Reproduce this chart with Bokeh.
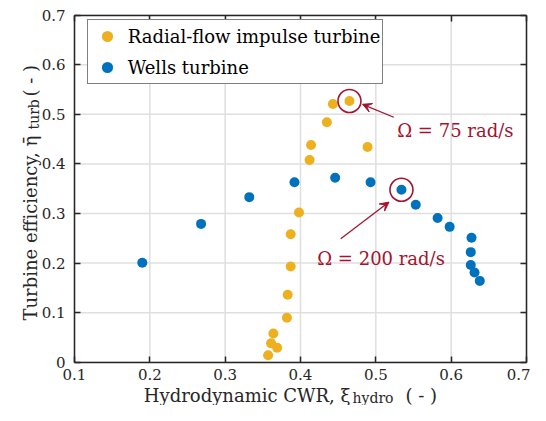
import numpy as np
from bokeh.plotting import figure
from bokeh.models import (Label, Arrow, VeeHead, Legend, LegendItem, LinearAxis,
                          FixedTicker, Range1d)
from bokeh.embed import file_html
from bokeh.resources import INLINE

# ---------------- data ----------------
radial_x = [0.443, 0.465, 0.435, 0.414, 0.412, 0.489, 0.398, 0.387, 0.387,
            0.383, 0.382, 0.364, 0.361, 0.369, 0.357]
radial_y = [0.521, 0.527, 0.484, 0.438, 0.408, 0.434, 0.302, 0.258, 0.193,
            0.136, 0.0895, 0.058, 0.038, 0.029, 0.014]
wells_x = [0.190, 0.268, 0.332, 0.392, 0.446, 0.493, 0.534, 0.553, 0.582,
           0.598, 0.627, 0.626, 0.626, 0.631, 0.638]
wells_y = [0.2005, 0.279, 0.333, 0.363, 0.372, 0.363, 0.348, 0.3175, 0.291,
           0.273, 0.251, 0.222, 0.196, 0.181, 0.164]

series_names = ["Radial-flow impulse turbine", "Wells turbine"]
x_ticks = [0.1, 0.2, 0.3, 0.4, 0.5, 0.6, 0.7]
x_tick_labels = ["0.1", "0.2", "0.3", "0.4", "0.5", "0.6", "0.7"]
y_ticks = [0, 0.1, 0.2, 0.3, 0.4, 0.5, 0.6, 0.7]
y_tick_labels = ["0", "0.1", "0.2", "0.3", "0.4", "0.5", "0.6", "0.7"]

hl_radial = 1   # Omega = 75 rad/s
hl_wells = 6    # Omega = 200 rad/s
hl_texts = ["\u03a9 = 75 rad/s", "\u03a9 = 200 rad/s"]

# ---------------- style ----------------
YEL = "#EDB120"
BLU = "#0072BD"
RED = "#A2142F"
AX = "#262626"
GRID = "#DFDFDF"
FONT = "DejaVu Serif"

W, H = 530, 405
# the frame covers the whole canvas; axes sit at fixed data locations
PX_X = 753.33   # pixels per x unit
PX_Y = 495.71   # pixels per y unit
x0, x1 = x_ticks[0], x_ticks[-1]
y0, y1 = y_ticks[0], y_ticks[-1]
xr = Range1d(x0 - 74 / PX_X, x1 + (W - 526) / PX_X)
yr = Range1d(y0 - (H - 361.7) / PX_Y, y1 + 14.7 / PX_Y)

p = figure(width=W, height=H, x_range=xr, y_range=yr,
           output_backend="svg", toolbar_location=None,
           x_axis_type=None, y_axis_type=None, min_border=0,
           min_border_left=0, min_border_right=0, min_border_top=0, min_border_bottom=0)
p.background_fill_color = "white"
p.border_fill_color = "white"
p.outline_line_color = None
p.grid.visible = False

# grid lines (from tick arrays)
p.segment(x0=x_ticks, y0=[y0] * len(x_ticks), x1=x_ticks, y1=[y1] * len(x_ticks),
          line_color=GRID, line_width=1.5, level="underlay")
p.segment(x0=[x0] * len(y_ticks), y0=y_ticks, x1=[x1] * len(y_ticks), y1=y_ticks,
          line_color=GRID, line_width=1.5, level="underlay")

def make_axis(ticks, labels, fixed, bounds, show_labels, standoff):
    a = LinearAxis(ticker=FixedTicker(ticks=ticks), fixed_location=fixed, bounds=bounds,
                   major_tick_in=6, major_tick_out=0, minor_tick_in=0, minor_tick_out=0,
                   axis_line_color=AX, axis_line_width=1.5,
                   major_tick_line_color=AX, major_tick_line_width=1.5,
                   major_label_text_font=FONT, major_label_text_font_size="15px",
                   major_label_standoff=standoff)
    if show_labels:
        a.major_label_overrides = dict(zip(ticks, labels))
        a.major_label_text_color = AX
    else:
        a.major_label_text_color = None
    return a

p.add_layout(make_axis(x_ticks, x_tick_labels, y0, (x0, x1), True, 7), "below")
p.add_layout(make_axis(y_ticks, y_tick_labels, x0, (y0, y1), True, 9), "left")
p.add_layout(make_axis(x_ticks, x_tick_labels, y1, (x0, x1), False, 0), "above")
p.add_layout(make_axis(y_ticks, y_tick_labels, x1, (y0, y1), False, 0), "right")

r1 = p.scatter(radial_x, radial_y, size=10, fill_color=YEL, line_color=None)
r2 = p.scatter(wells_x, wells_y, size=10, fill_color=BLU, line_color=None)

# highlight circles
p.scatter([radial_x[hl_radial], wells_x[hl_wells]], [radial_y[hl_radial], wells_y[hl_wells]],
          size=23, fill_color=None, line_color=RED, line_width=1.6)

# arrows and texts (offsets from highlighted points)
hx1, hy1 = radial_x[hl_radial], radial_y[hl_radial]
hx2, hy2 = wells_x[hl_wells], wells_y[hl_wells]
p.add_layout(Arrow(end=VeeHead(size=9, fill_color=RED, line_color=RED, line_width=1),
                   x_start=hx1 + 0.0588, y_start=hy1 - 0.0329,
                   x_end=hx1 + 0.0173, y_end=hy1 - 0.0067,
                   line_color=RED, line_width=1.3))
p.add_layout(Arrow(end=VeeHead(size=9, fill_color=RED, line_color=RED, line_width=1),
                   x_start=hx2 - 0.0806, y_start=hy2 - 0.0989,
                   x_end=hx2 - 0.0165, y_end=hy2 - 0.025,
                   line_color=RED, line_width=1.3))
p.add_layout(Label(x=hx1 + 0.0634, y=hy1 - 0.0596, text=hl_texts[0], text_font=FONT,
                   text_font_size="18px", text_color=RED, text_baseline="alphabetic"))
p.add_layout(Label(x=hx2 - 0.1118, y=hy2 - 0.1394, text=hl_texts[1], text_font=FONT,
                   text_font_size="18px", text_color=RED, text_baseline="alphabetic"))

# legend
leg = Legend(items=[LegendItem(label=series_names[0], renderers=[r1]),
                    LegendItem(label=series_names[1], renderers=[r2])],
             location=(86.7, H - 84.3), padding=2, spacing=3, glyph_width=34, glyph_height=28,
             label_standoff=4, label_text_font=FONT, label_text_font_size="18px",
             label_text_color="black", border_line_color="black", border_line_width=1.5,
             background_fill_color="white", background_fill_alpha=1.0, margin=0)
p.add_layout(leg, "center")

# axis labels built from pieces (with subscripts), canvas pixels from bottom-left
lab = dict(x_units="screen", y_units="screen", text_font=FONT, text_color=AX,
           text_baseline="alphabetic", text_align="left")
p.add_layout(Label(x=143.3, y=10.5, text="Hydrodynamic CWR, \u03be", text_font_size="18px", **lab))
p.add_layout(Label(x=352, y=7.5, text="hydro", text_font_size="14px", **lab))
p.add_layout(Label(x=405, y=10.5, text="( - )", text_font_size="18px", **lab))

p.add_layout(Label(x=30, y=85, angle=np.pi / 2, text="Turbine efficiency, \u03b7\u0304",
                   text_font_size="18px", **lab))
p.add_layout(Label(x=33, y=276, angle=np.pi / 2, text="turb", text_font_size="14px", **lab))
p.add_layout(Label(x=30, y=309, angle=np.pi / 2, text="( - )", text_font_size="18px", **lab))

open("out.html", "w").write(file_html(p, INLINE))
